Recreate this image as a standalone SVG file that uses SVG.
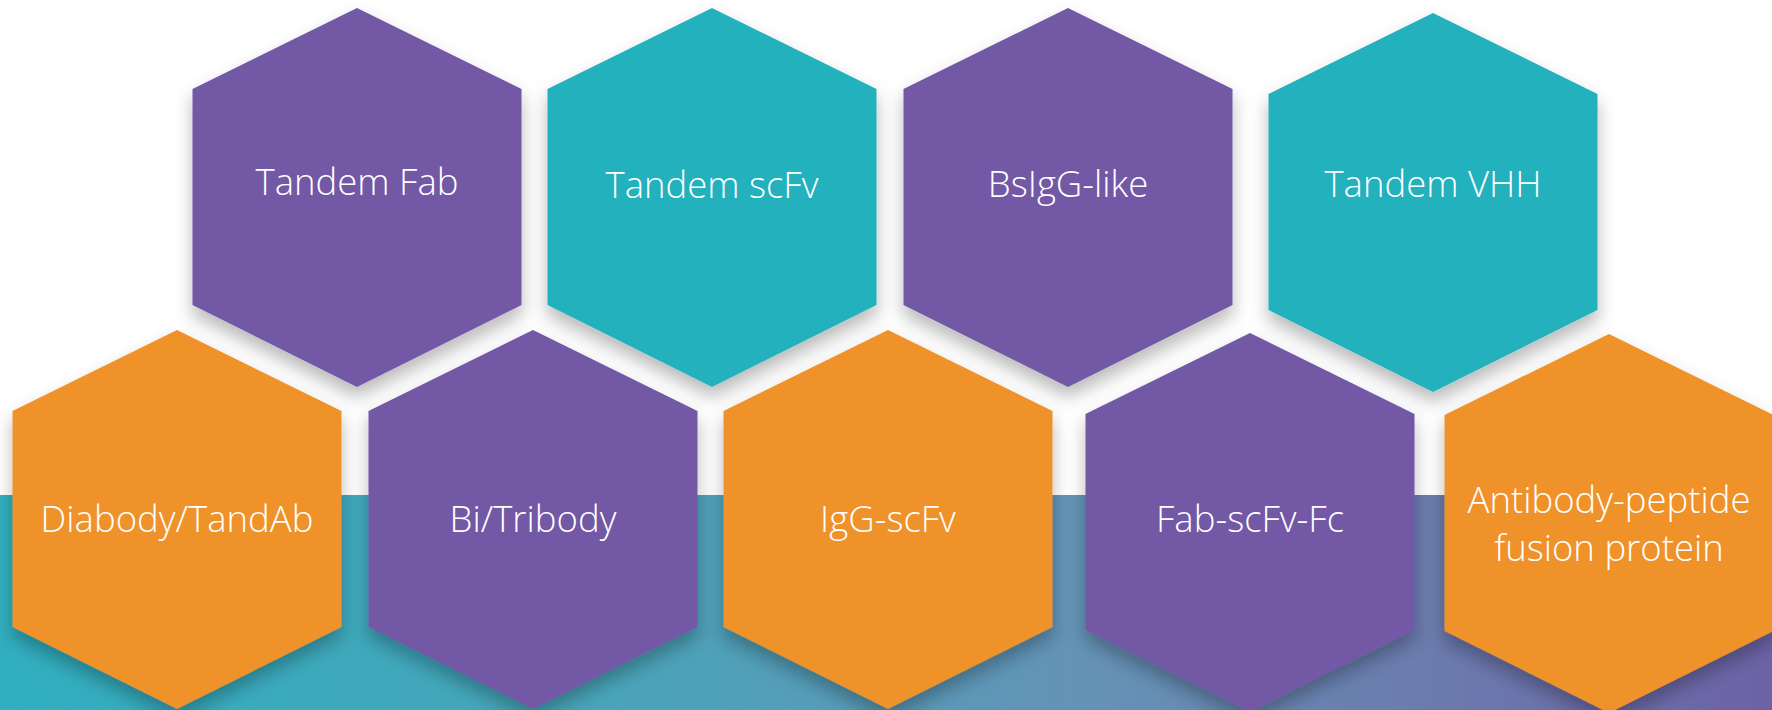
<svg xmlns="http://www.w3.org/2000/svg" xmlns:xlink="http://www.w3.org/1999/xlink" width="1772" height="710" viewBox="0 0 1772 710">
  <style>
    .purple { fill: #7358a5; }
    .teal { fill: #24b1bd; }
    .orange { fill: #ef922b; }
    .hex { filter: url(#shadow); }
    .label { font-family: "Open Sans", "Segoe UI", "Noto Sans", sans-serif; font-weight: 300; font-size: 36.5px; fill: #ffffff; text-anchor: middle; }
  </style>
  <defs>
    <linearGradient id="band" x1="0" y1="0" x2="1" y2="0">
      <stop offset="0" stop-color="#30afc0"/>
      <stop offset="0.35" stop-color="#4aa4ba"/>
      <stop offset="0.62" stop-color="#6592b5"/>
      <stop offset="0.8" stop-color="#6b7cae"/>
      <stop offset="1" stop-color="#6c62a6"/>
    </linearGradient>
    <filter id="shadow" x="-20%" y="-20%" width="140%" height="150%">
      <feDropShadow dx="0" dy="10" stdDeviation="9" flood-color="#000000" flood-opacity="0.28"/>
    </filter>
    <path id="hex" d="M0,0 L164.5,81 L164.5,297 L0,379 L-164.5,297 L-164.5,81 Z"/>
  </defs>

  <rect x="0" y="0" width="1772" height="710" fill="#ffffff"/>
  <rect x="0" y="495" width="1772" height="215" fill="url(#band)"/>

  <g id="connectors"/>

  <g id="tandem-fab">
    <use xlink:href="#hex" href="#hex" x="357" y="8" class="hex purple"/>
    <text class="label" x="357" y="195">Tandem Fab</text>
  </g>
  <g id="tandem-scfv">
    <use xlink:href="#hex" href="#hex" x="712" y="8" class="hex teal"/>
    <text class="label" x="712" y="198">Tandem scFv</text>
  </g>
  <g id="bsigg-like">
    <use xlink:href="#hex" href="#hex" x="1068" y="8" class="hex purple"/>
    <text class="label" x="1068" y="197">BsIgG-like</text>
  </g>
  <g id="tandem-vhh">
    <use xlink:href="#hex" href="#hex" x="1433" y="13" class="hex teal"/>
    <text class="label" x="1433" y="197">Tandem VHH</text>
  </g>

  <g id="diabody-tandab">
    <use xlink:href="#hex" href="#hex" x="177" y="330" class="hex orange"/>
    <text class="label" x="177" y="532">Diabody/TandAb</text>
  </g>
  <g id="bi-tribody">
    <use xlink:href="#hex" href="#hex" x="533" y="330" class="hex purple"/>
    <text class="label" x="533" y="532">Bi/Tribody</text>
  </g>
  <g id="igg-scfv">
    <use xlink:href="#hex" href="#hex" x="888" y="330" class="hex orange"/>
    <text class="label" x="888" y="532">IgG-scFv</text>
  </g>
  <g id="fab-scfv-fc">
    <use xlink:href="#hex" href="#hex" x="1250" y="333" class="hex purple"/>
    <text class="label" x="1250" y="532">Fab-scFv-Fc</text>
  </g>
  <g id="antibody-peptide">
    <use xlink:href="#hex" href="#hex" x="1609" y="334" class="hex orange"/>
    <text class="label" x="1609" y="513">Antibody-peptide</text>
    <text class="label" x="1609" y="561">fusion protein</text>
  </g>
</svg>
